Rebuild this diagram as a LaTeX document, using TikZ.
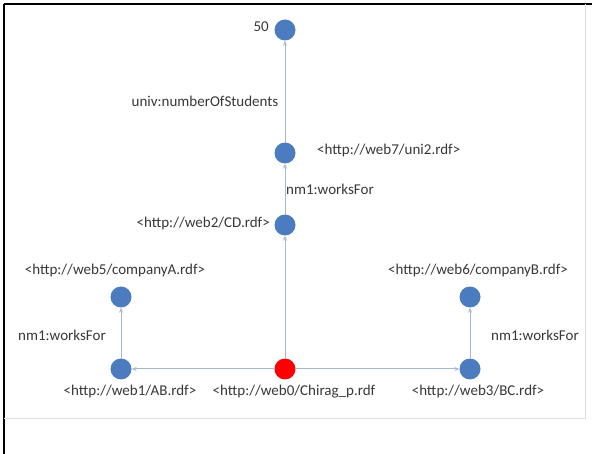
\documentclass[tikz,border=0pt]{standalone}
\usepackage{fontspec}
\setmainfont{Carlito}
\usetikzlibrary{arrows.meta}
\definecolor{nodeblue}{HTML}{4A7CBF}
\definecolor{edgecol}{HTML}{A3B8D3}
\definecolor{txtcol}{HTML}{383838}
\tikzset{
  vtx/.style={circle, fill=nodeblue, minimum size=21pt, inner sep=0pt},
  rootvtx/.style={circle, fill=red, minimum size=21pt, inner sep=0pt},
  lbl/.style={font=\fontsize{15}{17}\selectfont, text=txtcol, inner sep=1pt},
  edge/.style={draw=edgecol, line width=1pt, -{Stealth[length=5pt,width=4pt]}}
}
\begin{document}
\begin{tikzpicture}[x=1pt,y=-1pt]
\useasboundingbox (0,0) rectangle (592,454);
\fill[white] (0,0) rectangle (592,454);
% frame
\draw[black, line width=2pt] (4,4) -- (592,4);
\draw[black, line width=2pt] (4,4) -- (4,454);
\draw[black!12, line width=0.8pt] (585,4) -- (585,418) -- (4,418);
% nodes
\node[vtx] (n50) at (285,30) {};
\node[vtx] (uni) at (285,153) {};
\node[vtx] (cd) at (285,225) {};
\node[vtx] (ca) at (121,297) {};
\node[vtx] (cb) at (470,297) {};
\node[vtx] (ab) at (121,369) {};
\node[rootvtx] (root) at (285,369) {};
\node[vtx] (bc) at (470,369) {};
% node labels
\node[lbl, anchor=east] (t50) at (270,27) {50};
\node[lbl, anchor=west] (tuni) at (316,151) {<http://web7/uni2.rdf>};
\node[lbl, anchor=east] (tcd) at (271,224) {<http://web2/CD.rdf>};
\node[lbl] (tca) at (115,271) {<http://web5/companyA.rdf>};
\node[lbl] (tcb) at (478,271) {<http://web6/companyB.rdf>};
\node[lbl] (tab) at (130,392) {<http://web1/AB.rdf>};
\node[lbl] (troot) at (294,392) {<http://web0/Chirag\_p.rdf};
\node[lbl] (tbc) at (478,392) {<http://web3/BC.rdf>};
% edges
\draw[edge] (root) -- (cd);
\draw[edge] (cd) -- (uni);
\draw[edge] (uni) -- (n50);
\draw[edge] (root) -- (ab);
\draw[edge] (root) -- (bc);
\draw[edge] (ab) -- (ca);
\draw[edge] (bc) -- (cb);
% edge labels
\node[lbl] (e1) at (205,101) {univ:numberOfStudents};
\node[lbl] (e2) at (330,189) {nm1:worksFor};
\node[lbl] (e3) at (62,335) {nm1:worksFor};
\node[lbl] (e4) at (535,335) {nm1:worksFor};
\end{tikzpicture}
\end{document}
